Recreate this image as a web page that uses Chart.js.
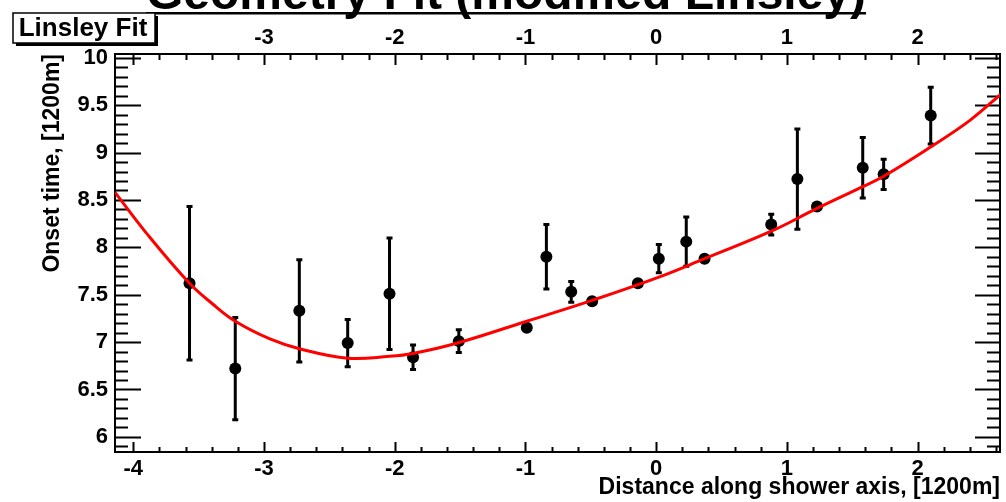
<!DOCTYPE html>
<html>
<head>
<meta charset="utf-8">
<title>Geometry Fit (modified Linsley)</title>
<script src="https://cdn.jsdelivr.net/npm/chart.js@4.4.1/dist/chart.umd.min.js"></script>
<style>
  html, body { margin: 0; padding: 0; background: #fff; }
  canvas { display: block; }
</style>
</head>
<body>
<canvas id="fitChart" width="1006" height="502"></canvas>
<script>
// Onset times of the stations vs. distance along the shower axis (units of 1200 m)
const distance = [-3.57, -3.22, -2.73, -2.36, -2.04, -1.86, -1.51, -0.99, -0.84, -0.65, -0.49,
                  -0.14, 0.02, 0.23, 0.37, 0.88, 1.08, 1.23, 1.58, 1.74, 2.10];
const onset = [7.62, 6.72, 7.33, 6.99, 7.51, 6.84, 7.01, 7.15, 7.90, 7.53, 7.43,
               7.62, 7.88, 8.06, 7.88, 8.24, 8.72, 8.43, 8.84, 8.77, 9.39];
const onsetErr = [0.82, 0.55, 0.55, 0.26, 0.60, 0.14, 0.13, 0.03, 0.35, 0.12, 0.04,
                  0.03, 0.16, 0.27, 0.04, 0.12, 0.54, 0.04, 0.33, 0.17, 0.31];

// Modified Linsley fit, sampled along the axis
const fitDistance = [-4.14, -3.90, -3.57, -3.40, -3.22, -2.95, -2.73, -2.36, -2.04, -1.86, -1.52,
                     -0.99, -0.49, 0.01, 0.37, 0.88, 1.23, 1.58, 1.74, 2.10, 2.40, 2.64];
const fitOnset = [8.58, 8.15, 7.62, 7.41, 7.22, 7.03, 6.93, 6.83, 6.85, 6.88, 6.99,
                  7.22, 7.44, 7.68, 7.88, 8.17, 8.41, 8.64, 8.75, 9.06, 9.34, 9.62];

const xTicks = [-4, -3, -2, -1, 0, 1, 2];
const xTopTicks = [-3, -2, -1, 0, 1, 2];
const yTicks = [6, 6.5, 7, 7.5, 8, 8.5, 9, 9.5, 10];

const X_MIN = -4.14, X_MAX = 2.63;
const Y_MIN = 5.84, Y_MAX = 10.04;

const FONT = '"Liberation Sans", Arial, Helvetica, sans-serif';
const tickFont = { family: FONT, size: 22, weight: 'bold' };
const titleFont = { family: FONT, size: 23, weight: 'bold' };

// frame with inward ticks on all four sides, plus the error bars
const frameTicks = {
  id: 'frameTicks',
  beforeDatasetsDraw(chart) {
    const { ctx, chartArea: a, scales } = chart;
    const xs = scales.x, ys = scales.y;
    ctx.save();
    ctx.strokeStyle = '#000';
    ctx.lineWidth = 2;
    ctx.beginPath();
    for (let k = -25; k <= 15; k++) {
      const v = k * 0.2;
      if (v < X_MIN || v > X_MAX) continue;
      const px = Math.round(xs.getPixelForValue(v)) + 0.5;
      const major = Math.abs(v - Math.round(v)) < 1e-6;
      ctx.moveTo(px, a.bottom);
      ctx.lineTo(px, a.bottom - (major ? 10 : 5));
      ctx.moveTo(px, a.top);
      ctx.lineTo(px, a.top + (major ? 11 : 6));
    }
    for (let k = 58; k <= 100; k++) {
      const v = k / 10;
      if (v < Y_MIN || v > Y_MAX) continue;
      const py = Math.round(ys.getPixelForValue(v)) + 0.5;
      const major = k % 5 === 0;
      ctx.moveTo(a.left, py);
      ctx.lineTo(a.left + (major ? 26 : 13), py);
      ctx.moveTo(a.right, py);
      ctx.lineTo(a.right - (major ? 25 : 13), py);
    }
    ctx.stroke();
    ctx.strokeRect(a.left, a.top, a.right - a.left, a.bottom - a.top);

    ctx.lineWidth = 3;
    ctx.beginPath();
    for (let i = 0; i < distance.length; i++) {
      const px = xs.getPixelForValue(distance[i]);
      const hi = ys.getPixelForValue(onset[i] + onsetErr[i]);
      const lo = ys.getPixelForValue(onset[i] - onsetErr[i]);
      ctx.moveTo(px, hi);
      ctx.lineTo(px, lo);
      ctx.moveTo(px - 3, hi + 1);
      ctx.lineTo(px + 3, hi + 1);
      ctx.moveTo(px - 3, lo - 1);
      ctx.lineTo(px + 3, lo - 1);
    }
    ctx.stroke();
    ctx.restore();
  },
  afterDraw(chart) {
    const { ctx } = chart;
    ctx.save();
    // title, partly above the canvas edge
    ctx.fillStyle = '#000';
    ctx.font = 'bold 48px ' + FONT;
    ctx.textAlign = 'center';
    ctx.textBaseline = 'alphabetic';
    const title = 'Geometry Fit (modified Linsley)';
    const w = ctx.measureText(title).width;
    ctx.fillText(title, 506, 9);
    ctx.fillRect(506 - w / 2, 12, w, 2.5);

    // "Linsley Fit" label box with shadow
    ctx.fillRect(16, 16, 142, 30);
    ctx.fillStyle = '#fff';
    ctx.fillRect(13, 13, 142, 30);
    ctx.strokeStyle = '#000';
    ctx.lineWidth = 1.5;
    ctx.strokeRect(13, 13, 142, 30);
    ctx.fillStyle = '#000';
    ctx.font = 'bold 26px ' + FONT;
    ctx.fillText('Linsley Fit', 83, 36);
    ctx.restore();
  }
};

const ctx = document.getElementById('fitChart').getContext('2d');
const chart = new Chart(ctx, {
  type: 'scatter',
  data: {
    datasets: [
      {
        label: 'data',
        data: distance.map((d, i) => ({ x: d, y: onset[i] })),
        pointRadius: 6,
        pointBackgroundColor: '#000',
        pointBorderWidth: 0,
        order: 1
      },
      {
        label: 'Linsley Fit',
        data: fitDistance.map((d, i) => ({ x: d, y: fitOnset[i] })),
        showLine: true,
        borderColor: '#ff0000',
        borderWidth: 3,
        pointRadius: 0,
        tension: 0.4,
        order: 0
      }
    ]
  },
  options: {
    responsive: false,
    animation: false,
    devicePixelRatio: 1,
    layout: { padding: { left: 37, right: 6, top: 0, bottom: 0 } },
    plugins: { legend: { display: false }, tooltip: { enabled: false } },
    scales: {
      x: {
        type: 'linear',
        position: 'bottom',
        min: X_MIN,
        max: X_MAX,
        grid: { display: false, drawTicks: false },
        border: { display: false },
        afterBuildTicks(s) { s.ticks = xTicks.map(v => ({ value: v })); },
        afterFit(s) { s.height = 50; },
        ticks: { color: '#000', font: tickFont, padding: 4, maxRotation: 0, autoSkip: false,
                 callback: v => String(v) },
        title: {
          display: true,
          text: 'Distance along shower axis, [1200m]',
          align: 'end',
          color: '#000',
          font: titleFont,
          padding: { top: 0, bottom: 1 }
        }
      },
      x2: {
        type: 'linear',
        position: 'top',
        min: X_MIN,
        max: X_MAX,
        grid: { display: false, drawTicks: false },
        border: { display: false },
        afterBuildTicks(s) { s.ticks = xTopTicks.map(v => ({ value: v })); },
        afterFit(s) { s.height = 54; },
        ticks: { color: '#000', font: tickFont, padding: 3, maxRotation: 0, autoSkip: false,
                 callback: v => String(v) }
      },
      y: {
        type: 'linear',
        position: 'left',
        min: Y_MIN,
        max: Y_MAX,
        grid: { display: false, drawTicks: false },
        border: { display: false },
        afterBuildTicks(s) { s.ticks = yTicks.map(v => ({ value: v })); },
        afterFit(s) { s.width = 78; },
        ticks: { color: '#000', font: tickFont, padding: 7, callback: v => String(v) },
        title: {
          display: true,
          text: 'Onset time, [1200m]',
          align: 'end',
          color: '#000',
          font: titleFont,
          padding: { top: 2, bottom: 0 }
        }
      }
    }
  },
  plugins: [frameTicks]
});
</script>
</body>
</html>
